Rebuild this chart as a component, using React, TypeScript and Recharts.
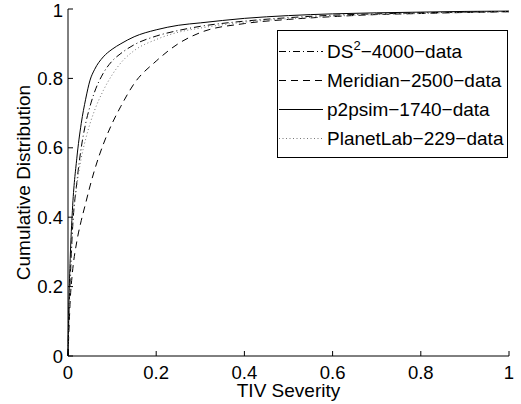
import { Legend, Line, LineChart, XAxis, YAxis } from "recharts";

// x grid (TIV severity) shared by all CDF curves
const XS = [0, 0.002, 0.005, 0.01, 0.02, 0.03, 0.04, 0.05, 0.06, 0.08, 0.1, 0.12, 0.15, 0.2, 0.25, 0.3, 0.4, 0.5, 0.6, 0.7, 0.8, 0.9, 1];

const DS2 = [0, 0.12, 0.22, 0.36, 0.5, 0.6, 0.67, 0.72, 0.76, 0.815, 0.85, 0.872, 0.897, 0.922, 0.938, 0.95, 0.965, 0.975, 0.982, 0.986, 0.989, 0.991, 0.993];
const MERIDIAN = [0, 0.07, 0.16, 0.24, 0.33, 0.39, 0.44, 0.49, 0.535, 0.61, 0.67, 0.72, 0.785, 0.85, 0.9, 0.932, 0.958, 0.97, 0.978, 0.984, 0.987, 0.99, 0.992];
const P2PSIM = [0, 0.15, 0.28, 0.42, 0.57, 0.67, 0.74, 0.795, 0.825, 0.862, 0.884, 0.9, 0.92, 0.94, 0.953, 0.96, 0.973, 0.981, 0.986, 0.989, 0.991, 0.993, 0.994];
const PLANETLAB = [0, 0.1, 0.2, 0.36, 0.49, 0.57, 0.625, 0.67, 0.707, 0.765, 0.81, 0.845, 0.88, 0.912, 0.933, 0.945, 0.962, 0.972, 0.979, 0.984, 0.987, 0.99, 0.992];

const TICKS = [0, 0.2, 0.4, 0.6, 0.8, 1];

const SERIES = [
  { key: "ds2", name: "DS2−4000−data", dash: "7 3 1 3", color: "#000" },
  { key: "meridian", name: "Meridian−2500−data", dash: "7 5", color: "#000" },
  { key: "p2psim", name: "p2psim−1740−data", dash: undefined, color: "#000" },
  { key: "planetlab", name: "PlanetLab−229−data", dash: "1 2.5", color: "#777" },
];

const data = XS.map((x, i) => ({
  x,
  ds2: DS2[i],
  meridian: MERIDIAN[i],
  p2psim: P2PSIM[i],
  planetlab: PLANETLAB[i],
}));

const FONT = '"Liberation Sans", Arial, Helvetica, sans-serif';
const tickStyle = { fontSize: 18.5, fill: "#000", fontFamily: FONT };

function LegendBox() {
  const rowY = [51.5, 80.5, 109.5, 138.5];
  return (
    <svg width={232} height={129} style={{ display: "block" }}>
      <rect x={0.5} y={0.5} width={230} height={127} fill="#fff" stroke="#000" strokeWidth={1} />
      {SERIES.map((s, i) => {
        const y = rowY[i] - 30;
        return (
          <g key={s.key}>
            <line x1={2} x2={46} y1={y} y2={y} stroke={s.color} strokeWidth={1} strokeDasharray={s.dash} />
            <text x={50} y={y + 6.5} fontSize={19} fontFamily={FONT} fill="#000">
              {s.key === "ds2" ? (
                <>
                  DS<tspan fontSize={13} dy={-8}>2</tspan>
                  <tspan dy={8}>−4000−data</tspan>
                </>
              ) : (
                s.name
              )}
            </text>
          </g>
        );
      })}
    </svg>
  );
}

export default function App() {
  return (
    <div style={{ position: "absolute", left: 0, top: 0, background: "#fff" }}>
      <LineChart width={521} height={404} data={data} margin={{ top: 9, right: 12, bottom: 0, left: 0 }}>
        <XAxis
          dataKey="x"
          type="number"
          domain={[0, 1]}
          ticks={TICKS}
          tickFormatter={(v: number) => String(v)}
          height={48}
          tickSize={-5}
          tickMargin={15}
          stroke="#000"
          tick={tickStyle}
          label={{
            content: ({ viewBox }: any) => (
              <text
                x={viewBox.x + viewBox.width / 2}
                y={397}
                textAnchor="middle"
                fontSize={19}
                fontFamily={FONT}
                fill="#000"
              >
                TIV Severity
              </text>
            ),
          }}
        />
        <XAxis
          xAxisId="top"
          orientation="top"
          type="number"
          domain={[0, 1]}
          ticks={TICKS}
          mirror
          height={0}
          tickSize={5}
          tickFormatter={() => ""}
          stroke="#000"
        />
        <YAxis
          type="number"
          domain={[0, 1]}
          ticks={TICKS}
          tickFormatter={(v: number) => String(v)}
          width={68}
          tickSize={-5}
          tickMargin={10}
          stroke="#000"
          tick={tickStyle}
          label={{
            content: ({ viewBox }: any) => {
              const cy = viewBox.y + viewBox.height / 2;
              return (
                <text
                  x={30}
                  y={cy}
                  transform={`rotate(-90, 30, ${cy})`}
                  textAnchor="middle"
                  fontSize={19}
                  fontFamily={FONT}
                  fill="#000"
                >
                  Cumulative Distribution
                </text>
              );
            },
          }}
        />
        <YAxis
          yAxisId="right"
          orientation="right"
          type="number"
          domain={[0, 1]}
          ticks={TICKS}
          mirror
          width={0}
          tickSize={5}
          tickFormatter={() => ""}
          stroke="#000"
        />
        <Legend
          layout="vertical"
          align="center"
          verticalAlign="middle"
          wrapperStyle={{ position: "absolute", left: 277, top: 30, width: 232, height: 129 }}
          content={() => <LegendBox />}
        />
        {SERIES.map((s) => (
          <Line
            key={s.key}
            dataKey={s.key}
            name={s.name}
            type="monotone"
            stroke={s.color}
            strokeWidth={1}
            strokeDasharray={s.dash}
            dot={false}
            activeDot={false}
            isAnimationActive={false}
          />
        ))}
      </LineChart>
    </div>
  );
}
